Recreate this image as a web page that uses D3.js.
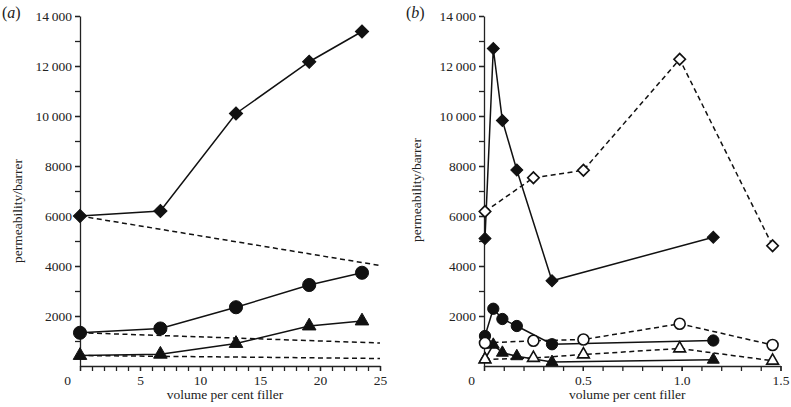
<!DOCTYPE html>
<html>
<head>
<meta charset="utf-8">
<script src="https://cdn.jsdelivr.net/npm/d3@7"></script>
<style>
  html, body { margin: 0; padding: 0; background: #fff; }
</style>
</head>
<body>
<svg id="chart" width="791" height="407"></svg>
<script>
// ---------- data ----------
// panel (a)
const aX = [0, 6.7, 13, 19.1, 23.5];
const aDiamond = [6000, 6200, 10100, 12170, 13380];
const aCircle = [1330, 1500, 2350, 3240, 3730];
const aTriangle = [420, 470, 900, 1600, 1800];
const aModelX = [0, 25];
const aModelDiamond = [6000, 4020];
const aModelCircle = [1330, 920];
const aModelTriangle = [420, 300];
const aXTicks = [0, 5, 10, 15, 20, 25];

// panel (b)
const bXFilled = [0.005, 0.047, 0.093, 0.166, 0.344, 1.16];
const bDiamondFilled = [5100, 12700, 9820, 7840, 3410, 5150];
const bCircleFilled = [1200, 2290, 1880, 1600, 870, 1020];
const bTriangleFilled = [280, 850, 530, 390, 160, 250];
const bXOpen = [0.005, 0.25, 0.503, 0.99, 1.46];
const bDiamondOpen = [6180, 7530, 7830, 12270, 4810];
const bCircleOpen = [920, 1010, 1060, 1690, 840];
const bTriangleOpen = [260, 320, 460, 700, 210];
const bXTicks = [0, 0.5, 1.0, 1.5];

const yTicks = [2000, 4000, 6000, 8000, 10000, 12000, 14000];
const xLabel = "volume per cent filler";
const yLabel = "permeability/barrer";

// ---------- drawing ----------
const FONT = "'Liberation Serif', 'Times New Roman', serif";
const svg = d3.select("#chart");
const plotTop = 16, plotBottom = 366;

function yFmt(v) {
  const s = String(v);
  return v >= 10000 ? s.slice(0, s.length - 3) + "\u2009" + s.slice(-3) : s;
}

function panel(opts) {
  const g = svg.append("g");
  const x = d3.scaleLinear().domain(opts.xDomain).range([opts.left, opts.right]);
  const y = d3.scaleLinear().domain([0, 14000]).range([plotBottom, plotTop]);

  g.append("g").attr("transform", `translate(${opts.left},0)`)
    .call(d3.axisLeft(y).tickValues(d3.range(1000, 14001, 1000)).tickSize(5).tickFormat(""))
    .call(s => s.select(".domain").remove());
  g.append("g").attr("transform", `translate(${opts.left},0)`)
    .call(d3.axisLeft(y).tickValues(yTicks).tickSize(5).tickSizeOuter(0).tickFormat(yFmt).tickPadding(3))
    .call(s => s.selectAll("text").style("font-size", "13.5px").style("font-family", FONT).attr("fill", "#222"));

  g.append("g").attr("transform", `translate(0,${plotBottom})`)
    .call(d3.axisBottom(x).tickValues(opts.xMinor).tickSize(5).tickFormat(""))
    .call(s => s.select(".domain").remove());
  g.append("g").attr("transform", `translate(0,${plotBottom})`)
    .call(d3.axisBottom(x).tickValues(opts.xTicks).tickSize(5).tickSizeOuter(0).tickFormat(opts.xFmt).tickPadding(4))
    .call(s => s.selectAll("text").style("font-size", "13.5px").style("font-family", FONT).attr("fill", "#222")
      .attr("dx", d => d === 0 ? -13 : 0));

  g.selectAll(".domain, .tick line").attr("stroke", "#222").attr("stroke-width", 1.3);

  g.append("text").attr("x", (opts.left + opts.right) / 2 - 5).attr("y", 399)
    .attr("text-anchor", "middle").style("font-size", "13.5px").style("font-family", FONT)
    .attr("fill", "#222").text(xLabel);
  g.append("text").attr("transform", `translate(${opts.yLabelX},${opts.yLabelY}) rotate(-90)`)
    .attr("text-anchor", "middle").style("font-size", "13.5px").style("font-family", FONT)
    .attr("fill", "#222").text(yLabel);
  const pl = g.append("text").attr("x", opts.tagX).attr("y", 18).style("font-size", "16px")
    .style("font-family", FONT).attr("fill", "#222");
  pl.append("tspan").text("(");
  pl.append("tspan").style("font-style", "italic").text(opts.tag);
  pl.append("tspan").text(")");

  return { g, x, y };
}

function series(p, xs, ys, opts) {
  const pts = xs.map((d, i) => [d, ys[i]]);
  const line = d3.line().x(d => p.x(d[0])).y(d => p.y(d[1]));
  p.g.append("path").attr("d", line(pts)).attr("fill", "none")
    .attr("stroke", "#111").attr("stroke-width", 1.5)
    .attr("stroke-dasharray", opts.dashed ? "5,3.5" : null);
  if (!opts.symbol) return;
  const sym = d3.symbol().type(opts.symbol).size(opts.size);
  p.g.selectAll(null).data(pts).enter().append("path")
    .attr("d", sym)
    .attr("transform", d => `translate(${p.x(d[0])},${p.y(d[1])})${opts.rotate ? " rotate(45)" : ""}`)
    .attr("fill", opts.open ? "#fff" : "#111")
    .attr("stroke", "#111").attr("stroke-width", opts.open ? 1.6 : 1);
}

// Panel (a)
const pa = panel({
  xDomain: [0, 25], left: 80, right: 380,
  xTicks: aXTicks, xMinor: d3.range(0, 26, 1), xFmt: d => String(d),
  yLabelX: 22, yLabelY: 211, tag: "a", tagX: 2
});
series(pa, aModelX, aModelDiamond, { dashed: true });
series(pa, aModelX, aModelCircle, { dashed: true });
series(pa, aModelX, aModelTriangle, { dashed: true });
series(pa, aX, aDiamond, { symbol: d3.symbolSquare, size: 88, rotate: true });
series(pa, aX, aCircle, { symbol: d3.symbolCircle, size: 135 });
series(pa, aX, aTriangle, { symbol: d3.symbolTriangle, size: 80 });

// Panel (b)
const pb = panel({
  xDomain: [0, 1.5], left: 484, right: 780.5,
  xTicks: bXTicks, xMinor: d3.range(0, 1.51, 0.1), xFmt: d => d === 0 ? "0" : d3.format(".1f")(d),
  yLabelX: 421, yLabelY: 190, tag: "b", tagX: 406
});
series(pb, bXFilled, bDiamondFilled, { symbol: d3.symbolSquare, size: 72, rotate: true });
series(pb, bXFilled, bCircleFilled, { symbol: d3.symbolCircle, size: 100 });
series(pb, bXFilled, bTriangleFilled, { symbol: d3.symbolTriangle, size: 62 });
series(pb, bXOpen, bDiamondOpen, { dashed: true, open: true, symbol: d3.symbolSquare, size: 66, rotate: true });
series(pb, bXOpen, bCircleOpen, { dashed: true, open: true, symbol: d3.symbolCircle, size: 95 });
series(pb, bXOpen, bTriangleOpen, { dashed: true, open: true, symbol: d3.symbolTriangle, size: 60 });
</script>
</body>
</html>
